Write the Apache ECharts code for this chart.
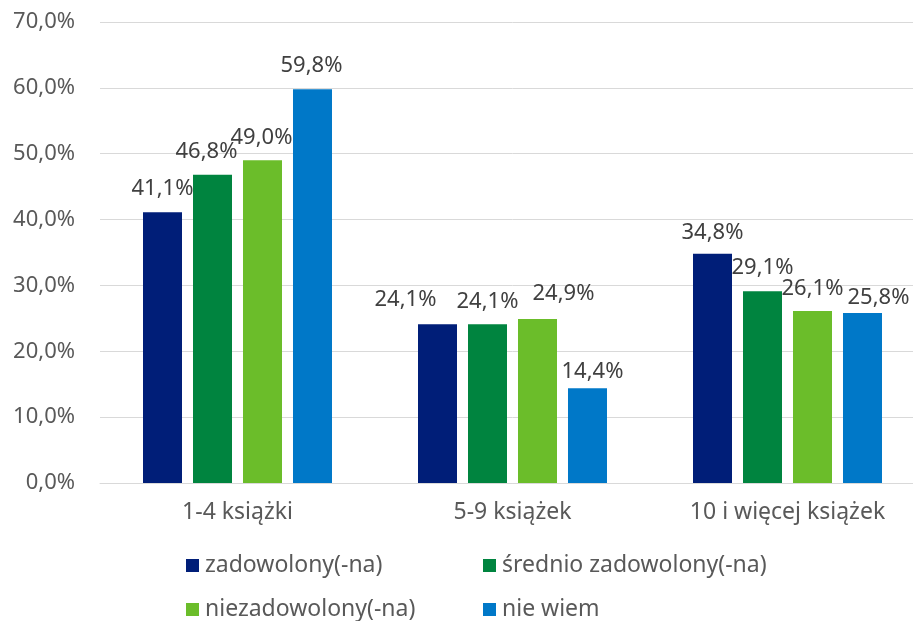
<!DOCTYPE html>
<html>
<head>
<meta charset="utf-8">
<script src="https://cdn.jsdelivr.net/npm/echarts@6/dist/echarts.min.js"></script>
<style>
html,body{margin:0;padding:0;background:#fff;overflow:hidden;width:913px;height:621px;}
#chart{width:925px;height:621px;}
</style>
</head>
<body>
<div id="chart"></div>
<script>
const categories = ['1-4 książki', '5-9 książek', '10 i więcej książek'];
const seriesNames = ['zadowolony(-na)', 'średnio zadowolony(-na)', 'niezadowolony(-na)', 'nie wiem'];
const zadowolony = [41.1, 24.1, 34.8];
const srednio = [46.8, 24.1, 29.1];
const niezadowolony = [49.0, 24.9, 26.1];
const nieWiem = [59.8, 14.4, 25.8];
const yMin = 0, yMax = 70, yStep = 10;

const colors = ['#001E78', '#00843F', '#6BBD2A', '#0078C8'];
const labelOffsets = [
  [[0, -1], [-32, -2], [0, 2]],
  [[-6, 0], [0, 0], [0, -1]],
  [[-1, 0], [26, -2], [0, 1]],
  [[-1, 0], [5, 7], [16, 8]]
];
const legendPos = [[186, 554], [483, 554], [186, 598], [483, 598]];

const FONT = 'Noto Sans';
const fmt = v => v.toFixed(1).replace('.', ',') + '%';
const allValues = [zadowolony, srednio, niezadowolony, nieWiem];

const series = allValues.map((vals, si) => ({
  name: seriesNames[si],
  type: 'bar',
  barWidth: 39,
  barGap: '28.2%',
  itemStyle: { color: colors[si] },
  label: {
    show: true, position: 'top', distance: 12,
    fontFamily: FONT, fontSize: 22, color: '#404040',
    formatter: p => fmt(p.value)
  },
  data: vals.map((v, i) => ({ value: v, label: { offset: labelOffsets[si][i] } }))
}));

const legends = seriesNames.map((n, i) => ({
  data: [n], left: legendPos[i][0], top: legendPos[i][1], padding: 0,
  icon: 'rect', itemWidth: 13, itemHeight: 13, itemGap: 0,
  textStyle: { fontFamily: FONT, fontSize: 23, color: '#595959', padding: [0, 0, 0, 1] }
}));

const chart = echarts.init(document.getElementById('chart'));
chart.setOption({
  animation: false,
  backgroundColor: '#ffffff',
  grid: { left: 100, right: 0, top: 22, bottom: 138, containLabel: false },
  legend: legends,
  xAxis: {
    type: 'category', data: categories,
    axisTick: { show: false },
    axisLine: { lineStyle: { color: '#D9D9D9', width: 1 } },
    axisLabel: { margin: 18, fontFamily: FONT, fontSize: 23, color: '#595959' }
  },
  yAxis: {
    type: 'value', min: yMin, max: yMax, interval: yStep,
    axisLine: { show: false }, axisTick: { show: false },
    splitLine: { lineStyle: { color: '#D9D9D9', width: 1 } },
    axisLabel: { margin: 25, fontFamily: FONT, fontSize: 22, color: '#595959', formatter: v => fmt(v) }
  },
  series: series
});
</script>
</body>
</html>
